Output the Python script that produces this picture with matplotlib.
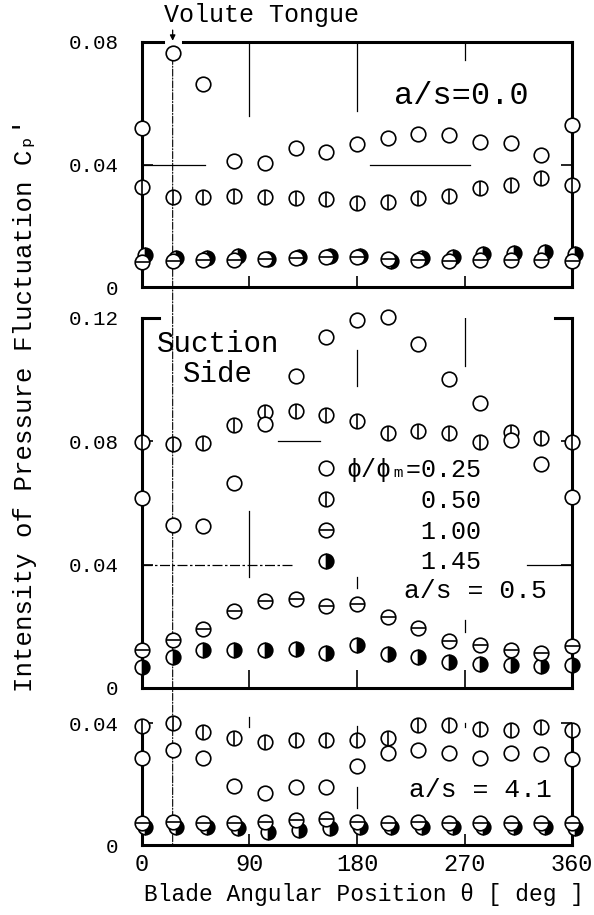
import matplotlib
matplotlib.use('Agg')
import matplotlib.pyplot as plt
from matplotlib.patches import ConnectionPatch
from matplotlib.transforms import offset_copy

plt.rcParams['font.family'] = ['Liberation Mono', 'DejaVu Sans Mono', 'DejaVu Sans']

# blade angular position [deg] (14 blades)
theta = [0, 25.7, 51.4, 77.1, 102.9, 128.6, 154.3, 180, 205.7, 231.4, 257.1, 282.9, 308.6, 334.3, 360]
tongue = 25.7

# a/s = 0.0
p1_025 = [0.0519, 0.0764, 0.0663, 0.0411, 0.0405, 0.0453, 0.0442, 0.0467, 0.0486, 0.0499, 0.0496, 0.0475, 0.0469, 0.0431, 0.0529]
p1_050 = [0.0326, 0.0293, 0.0293, 0.0297, 0.0295, 0.0290, 0.0287, 0.0275, 0.0278, 0.0290, 0.0297, 0.0322, 0.0333, 0.0355, 0.0333]
p1_100 = [0.0083, 0.0085, 0.0088, 0.0088, 0.0090, 0.0094, 0.0097, 0.0097, 0.0090, 0.0088, 0.0085, 0.0088, 0.0088, 0.0088, 0.0085]
p1_145 = [0.0104, 0.0094, 0.0096, 0.0102, 0.0092, 0.0099, 0.0102, 0.0100, 0.0085, 0.0094, 0.0099, 0.0108, 0.0112, 0.0114, 0.0108]

# a/s = 0.5
p2_025 = [0.0616, 0.0529, 0.0526, 0.0665, 0.0857, 0.1012, 0.1137, 0.1194, 0.1202, 0.1116, 0.1001, 0.0925, 0.0805, 0.0725, 0.0618]
p2_050 = [0.0798, 0.0790, 0.0796, 0.0852, 0.0896, 0.0899, 0.0885, 0.0866, 0.0828, 0.0833, 0.0827, 0.0798, 0.0830, 0.0812, 0.0798]
p2_100 = [0.0124, 0.0157, 0.0191, 0.0249, 0.0281, 0.0287, 0.0265, 0.0273, 0.0230, 0.0195, 0.0154, 0.0140, 0.0122, 0.0113, 0.0135]
p2_145 = [0.0069, 0.0102, 0.0124, 0.0124, 0.0124, 0.0125, 0.0115, 0.0138, 0.0111, 0.0099, 0.0083, 0.0078, 0.0075, 0.0072, 0.0075]

# a/s = 4.1
p3_025 = [0.0284, 0.0311, 0.0286, 0.0193, 0.0169, 0.0189, 0.0191, 0.0259, 0.0301, 0.0311, 0.0303, 0.0286, 0.0303, 0.0298, 0.0281]
p3_050 = [0.0391, 0.0399, 0.0372, 0.0350, 0.0337, 0.0344, 0.0344, 0.0344, 0.0350, 0.0393, 0.0393, 0.0379, 0.0377, 0.0388, 0.0377]
p3_100 = [0.0071, 0.0077, 0.0071, 0.0073, 0.0077, 0.0082, 0.0084, 0.0077, 0.0071, 0.0077, 0.0073, 0.0071, 0.0071, 0.0073, 0.0073]
p3_145 = [0.0060, 0.0060, 0.0060, 0.0057, 0.0044, 0.0049, 0.0055, 0.0060, 0.0060, 0.0060, 0.0060, 0.0060, 0.0060, 0.0060, 0.0055]

legend_labels = ['ϕ/ϕₘ=0.25', '     0.50', '     1.00', '     1.45']
xticks = [0, 90, 180, 270, 360]

MS = 10.5
MEW = 1.2
SPINE = 2.2

fig = plt.figure(figsize=(5.94, 9.15), dpi=100)
ax1 = fig.add_axes([0.239, 0.6863, 0.724, 0.2678])
ax2 = fig.add_axes([0.239, 0.2481, 0.724, 0.4044])
ax3 = fig.add_axes([0.239, 0.0765, 0.724, 0.150])


def draw_series(ax, y, kind, dx=0):
    tr = offset_copy(ax.transData, fig=fig, x=dx, y=0, units='points')
    kw = dict(ls='none', ms=MS, mec='black', mew=MEW, clip_on=False, zorder=4, transform=tr)
    if kind == 'half':
        return ax.plot(theta, y, marker='o', fillstyle='right', mfc='black', mfcalt='white', **kw)[0]
    c = ax.plot(theta, y, marker='o', mfc='white', **kw)[0]
    if kind == 'plain':
        return c
    b = ax.plot(theta, y, marker='|' if kind == 'vbar' else '_', **kw)[0]
    return (c, b)


def frame(ax, top, yticks, ylabels):
    ax.set_xlim(0, 360)
    ax.set_ylim(0, top)
    ax.set_facecolor('none')
    for s in ['left', 'right', 'bottom']:
        ax.spines[s].set_linewidth(SPINE)
    ax.spines['top'].set_visible(False)
    ax.set_xticks(xticks)
    ax.set_yticks(yticks)
    ax.set_yticklabels(ylabels)
    ax.tick_params(axis='y', direction='in', left=True, right=True, length=8, width=1.2,
                   labelsize=15, pad=17)
    ax.tick_params(axis='x', direction='in', bottom=True, top=False, length=8, width=1.2,
                   labelsize=17, pad=6)


# ---- panel 1 : a/s = 0.0
frame(ax1, 0.08, [0, 0.04, 0.08], ['0', '0.04', '0.08'])
ax1.tick_params(axis='x', labelbottom=False)
draw_series(ax1, p1_145, 'half', dx=2.5)
draw_series(ax1, p1_100, 'hbar')
draw_series(ax1, p1_050, 'vbar')
draw_series(ax1, p1_025, 'plain')
ax1.axhline(0.08, xmin=0, xmax=0.05, color='k', lw=SPINE, solid_capstyle='projecting', clip_on=False)
ax1.axhline(0.08, xmin=0.095, xmax=1, color='k', lw=SPINE, solid_capstyle='projecting', clip_on=False)
ax1.axvline(90, ymin=0.70, ymax=1, color='k', lw=0.9)
ax1.axvline(180, ymin=0.72, ymax=1, color='k', lw=0.9)
ax1.axvline(270, ymin=0.925, ymax=1, color='k', lw=0.9)
ax1.axhline(0.04, xmin=0, xmax=0.147, color='k', lw=0.9)
ax1.axhline(0.04, xmin=0.53, xmax=0.763, color='k', lw=0.9)
ax1.text(211, 0.0624, 'a/s=0.0', fontsize=23, ha='left', va='center')
ax1.text(99.7, 0.0888, 'Volute Tongue', fontsize=18, ha='center', va='center')
ax1.annotate('', xy=(tongue, 0.0795), xytext=(tongue, 0.0848),
             arrowprops=dict(arrowstyle='-|>', color='k', lw=0.9, mutation_scale=8))

# ---- panel 2 : a/s = 0.5
frame(ax2, 0.12, [0, 0.04, 0.08, 0.12], ['0', '0.04', '0.08', '0.12'])
ax2.tick_params(axis='x', labelbottom=False, length=13)
h145 = draw_series(ax2, p2_145, 'half')
h100 = draw_series(ax2, p2_100, 'hbar')
h050 = draw_series(ax2, p2_050, 'vbar')
h025 = draw_series(ax2, p2_025, 'plain')
ax2.axhline(0.12, xmin=0, xmax=0.04, color='k', lw=SPINE, solid_capstyle='projecting', clip_on=False)
ax2.axhline(0.12, xmin=0.96, xmax=1, color='k', lw=SPINE, solid_capstyle='projecting', clip_on=False)
ax2.axvline(180, ymin=0.815, ymax=0.913, color='k', lw=0.9)
ax2.axvline(270, ymin=0.87, ymax=1, color='k', lw=0.9)
ax2.axhline(0.08, xmin=0.316, xmax=0.414, color='k', lw=0.9)
ax2.axvline(90, ymin=0.299, ymax=0.478, color='k', lw=0.9)
ax2.axhline(0.04, xmin=0, xmax=0.351, color='k', lw=0.9, ls=(0, (8, 2, 2, 2)))
ax2.axhline(0.04, xmin=0.895, xmax=1, color='k', lw=0.9)
ax2.axvline(180, ymin=0.27, ymax=0.30, color='k', lw=0.9)
ax2.axvline(270, ymin=0.15, ymax=0.185, color='k', lw=0.9)
ax2.text(63.7, 0.1066, 'Suction\nSide', fontsize=21, ha='center', va='center',
         multialignment='center', linespacing=1.1)
ax2.text(279, 0.0313, 'a/s = 0.5', fontsize=19, ha='center', va='center')
ax2.legend([h025, h050, h100, h145], legend_labels, loc='upper left',
           bbox_to_anchor=(0.37, 0.655), frameon=False, fontsize=18,
           handlelength=1.0, handletextpad=0.3, labelspacing=0.27, borderpad=0)

# ---- panel 3 : a/s = 4.1
frame(ax3, 0.045, [0, 0.04], ['0', '0.04'])
ax3.spines['left'].set_bounds(0, 0.037)
ax3.spines['right'].set_bounds(0, 0.037)
ax3.set_xticklabels([str(v) for v in xticks])
draw_series(ax3, p3_145, 'half', dx=2.5)
draw_series(ax3, p3_100, 'hbar')
draw_series(ax3, p3_050, 'vbar')
draw_series(ax3, p3_025, 'plain')
ax3.axvline(90, ymin=0.86, ymax=0.933, color='k', lw=0.9)
ax3.axvline(180, ymin=0.82, ymax=0.87, color='k', lw=0.9)
ax3.axvline(180, ymin=0.27, ymax=0.42, color='k', lw=0.9)
ax3.axvline(270, ymin=0.86, ymax=0.89, color='k', lw=0.9)
ax3.text(283, 0.018, 'a/s = 4.1', fontsize=19, ha='center', va='center')
ax3.set_xlabel('Blade Angular Position θ [ deg ]', fontsize=16.5)
ax3.xaxis.set_label_coords(0.516, -0.28)

# volute tongue line through all panels
con = ConnectionPatch(xyA=(tongue, 0.075), coordsA='data', axesA=ax1,
                      xyB=(tongue, 0), coordsB='data', axesB=ax3,
                      color='k', lw=0.8, ls='-.', zorder=-1)
fig.add_artist(con)

fig.text(25 / 594, 1 - 405 / 915, 'Intensity of Pressure Fluctuation Cₚ′',
         rotation=90, ha='center', va='center', fontsize=18.5)

fig.savefig('out.png', dpi=100, facecolor='white')
